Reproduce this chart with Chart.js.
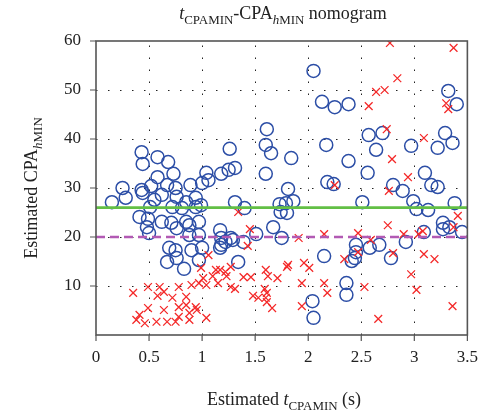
<!DOCTYPE html>
<html lang="en">
<head>
    <meta charset="UTF-8">
    <title>tCPAMIN-CPAhMIN nomogram</title>
    <script src="https://cdn.jsdelivr.net/npm/chart.js"></script>
    <style>
        body { margin: 0; background: #fff; }
        #wrap { width: 490px; height: 415px; }
    </style>
</head>
<body>
    <div id="wrap"><canvas id="nomogram" width="490" height="415"></canvas></div>

    <script>
        // Blue circles (points above the threshold)
        const circleX = [2.05, 2.13, 2.25, 2.38, 1.61, 1.60, 1.65, 1.84, 1.26, 2.38, 2.17, 1.60, 1.31, 1.25, 1.18,
            0.43, 0.44, 0.58, 0.68, 0.58, 0.73, 1.04, 1.06, 3.32, 3.40, 2.57, 2.70, 2.64, 2.97, 3.29,
            3.22, 3.36, 2.56, 3.10, 2.80, 2.89, 3.16, 3.22, 2.51, 2.99, 3.02, 3.13, 3.38, 3.27, 3.27,
            3.33, 3.45, 3.09, 2.92, 2.67, 2.58, 2.45, 2.45, 2.44, 2.41, 2.78, 2.36, 2.36, 2.18, 2.24,
            1.81, 1.31, 1.40, 1.73, 1.79, 1.86, 1.74, 1.80, 1.17, 1.27, 1.29, 1.22, 1.18, 1.39, 1.51,
            1.67, 1.75, 1.34, 2.15, 2.04, 2.05, 0.25, 0.43, 0.44, 0.52, 0.67, 0.75, 0.89, 1.00, 0.15,
            0.28, 0.55, 0.62, 0.76, 0.85, 0.94, 0.51, 0.72, 0.81, 0.94, 0.99, 0.41, 0.49, 0.62, 0.71,
            0.85, 0.88, 0.97, 0.48, 0.50, 0.76, 0.88, 0.97, 1.18, 1.00, 0.90, 0.69, 0.75, 0.67, 0.76,
            0.97, 0.83, 1.17];
        const circleY = [53.9, 47.6, 46.5, 47.1, 42.0, 38.8, 37.1, 36.1, 38.0, 35.5, 38.8, 32.9, 34.1, 33.7, 32.9,
            37.3, 34.9, 36.3, 35.3, 32.2, 32.9, 33.1, 31.6, 49.8, 47.1, 40.8, 41.2, 37.8, 38.6, 41.2,
            38.2, 39.2, 33.1, 33.1, 30.6, 29.4, 30.6, 30.2, 27.1, 27.3, 25.7, 25.5, 26.9, 22.9, 21.6,
            22.0, 21.0, 21.0, 19.0, 18.4, 17.8, 18.4, 16.9, 15.7, 15.1, 15.7, 10.6, 8.2, 31.2, 30.8,
            29.8, 27.1, 25.9, 26.7, 26.9, 27.3, 25.1, 24.9, 21.4, 19.8, 19.4, 19.0, 18.4, 19.0, 20.6,
            22.0, 19.8, 14.9, 16.1, 6.9, 3.5, 30.0, 29.6, 29.0, 30.4, 30.6, 30.0, 30.6, 31.0, 27.1,
            28.0, 27.6, 28.6, 28.2, 27.1, 28.0, 26.1, 26.1, 25.9, 26.1, 26.5, 24.1, 23.7, 23.1, 22.9,
            23.1, 22.4, 23.1, 22.0, 20.8, 21.8, 20.4, 20.4, 19.8, 17.8, 17.3, 17.8, 17.3, 14.9, 15.7,
            15.3, 13.5, 17.8];

        // Red crosses
        const crossX = [2.77, 3.37, 2.84, 2.64, 2.72, 2.57, 3.30, 3.32, 2.74, 3.09, 2.79, 2.94, 2.76, 3.41, 2.75,
            2.47, 2.90, 3.04, 3.08, 3.37, 2.59, 2.47, 2.80, 3.09, 3.19, 2.97, 2.53, 3.02, 3.36, 2.66,
            2.25, 1.34, 1.45, 1.43, 1.91, 2.15, 2.34, 1.81, 1.96, 2.01, 1.80, 1.27, 1.17, 1.23, 1.39,
            1.46, 1.60, 1.62, 1.71, 1.94, 2.15, 2.18, 1.27, 1.31, 1.48, 1.53, 1.59, 1.61, 1.60, 1.61,
            1.66, 1.94, 1.15, 0.35, 0.49, 0.60, 0.58, 0.64, 0.72, 0.78, 0.85, 0.90, 0.97, 1.04, 1.13,
            1.06, 0.99, 1.01, 1.10, 1.22, 0.41, 0.38, 0.46, 0.49, 0.57, 0.64, 0.67, 0.78, 0.88, 0.85,
            0.94, 0.95, 1.04, 0.78, 0.75, 0.88];
        const crossY = [59.6, 58.6, 52.4, 49.6, 50.0, 46.7, 47.3, 46.1, 42.0, 40.2, 35.9, 32.2, 29.4, 24.3, 22.4,
            20.8, 20.6, 20.6, 21.2, 22.0, 19.4, 16.9, 16.7, 16.5, 15.5, 12.4, 9.8, 9.2, 5.9, 3.3,
            30.6, 25.1, 21.6, 18.2, 19.8, 20.6, 15.5, 14.3, 14.7, 13.7, 13.9, 13.9, 13.3, 12.0, 11.8,
            11.8, 13.3, 12.0, 11.6, 10.6, 10.6, 8.6, 9.8, 9.4, 8.0, 7.6, 9.4, 8.6, 7.6, 6.7,
            5.5, 5.9, 10.6, 8.6, 9.8, 9.8, 8.0, 8.8, 7.6, 9.8, 7.8, 10.2, 10.6, 10.2, 13.3,
            16.3, 13.7, 11.6, 12.0, 12.9, 4.1, 3.1, 2.4, 5.5, 2.7, 5.1, 2.7, 3.7, 4.5, 6.1,
            5.7, 5.1, 3.5, 5.7, 2.7, 3.1];

        // Threshold lines: green solid, magenta dashed
        const greenLevel = 26;
        const magentaLevel = 20;

        const xTicks = [0, 0.5, 1, 1.5, 2, 2.5, 3, 3.5];
        const yTicks = [10, 20, 30, 40, 50, 60];

        const serif = '"Liberation Serif", "DejaVu Serif", serif';

        // draw text with italic/subscript parts
        function richWidth(ctx, parts, size) {
            let w = 0;
            parts.forEach(p => {
                ctx.font = (p.i ? 'italic ' : '') + (p.sub ? size * 0.72 : size) + 'px ' + serif;
                w += ctx.measureText(p.t).width;
            });
            return w;
        }
        function drawRich(ctx, parts, cx, baseline, size) {
            let x = cx - richWidth(ctx, parts, size) / 2;
            parts.forEach(p => {
                ctx.font = (p.i ? 'italic ' : '') + (p.sub ? size * 0.72 : size) + 'px ' + serif;
                ctx.fillText(p.t, x, baseline + (p.sub ? size * 0.28 : 0));
                x += ctx.measureText(p.t).width;
            });
        }

        const framePlugin = {
            id: 'frame',
            beforeDatasetsDraw(chart) {
                const ctx = chart.ctx;
                const a = chart.chartArea;
                const xs = chart.scales.x, ys = chart.scales.y;
                ctx.save();
                ctx.strokeStyle = '#222';
                ctx.lineWidth = 1;
                ctx.setLineDash([1.5, 10.5]);
                xTicks.slice(1, -1).forEach(v => {
                    const px = Math.round(xs.getPixelForValue(v)) + 0.5;
                    ctx.beginPath(); ctx.moveTo(px, a.bottom); ctx.lineTo(px, a.top); ctx.stroke();
                });
                yTicks.slice(0, -1).forEach(v => {
                    const py = Math.round(ys.getPixelForValue(v)) + 0.5;
                    ctx.beginPath(); ctx.moveTo(a.left, py); ctx.lineTo(a.right, py); ctx.stroke();
                });
                ctx.restore();
            },
            afterDraw(chart) {
                const ctx = chart.ctx;
                const a = chart.chartArea;
                const xs = chart.scales.x, ys = chart.scales.y;
                ctx.save();
                ctx.strokeStyle = '#555';
                ctx.lineWidth = 1.6;
                ctx.strokeRect(a.left, a.top, a.right - a.left, a.bottom - a.top);
                ctx.lineWidth = 1.2;
                ctx.beginPath();
                xTicks.forEach(v => {
                    const px = xs.getPixelForValue(v);
                    ctx.moveTo(px, a.bottom); ctx.lineTo(px, a.bottom + 6);
                });
                yTicks.forEach(v => {
                    const py = ys.getPixelForValue(v);
                    ctx.moveTo(a.left, py); ctx.lineTo(a.left - 6, py);
                });
                ctx.stroke();

                ctx.fillStyle = '#222';
                ctx.textAlign = 'left';
                ctx.textBaseline = 'alphabetic';
                drawRich(ctx, [
                    { t: 't', i: 1 }, { t: 'CPAMIN', sub: 1 }, { t: '-CPA' },
                    { t: 'h', i: 1, sub: 1 }, { t: 'MIN', sub: 1 }, { t: ' nomogram' }
                ], 283, 19, 18);
                drawRich(ctx, [
                    { t: 'Estimated ' }, { t: 't', i: 1 }, { t: 'CPAMIN', sub: 1 }, { t: ' (s)' }
                ], 284, 405, 18);
                ctx.translate(37, 188);
                ctx.rotate(-Math.PI / 2);
                drawRich(ctx, [
                    { t: 'Estimated CPA' }, { t: 'h', i: 1, sub: 1 }, { t: 'MIN', sub: 1 }
                ], 0, 0, 18);
                ctx.restore();
            }
        };

        const nomogram = new Chart(document.getElementById('nomogram'), {
            type: 'scatter',
            data: {
                datasets: [
                    {
                        label: 'circles',
                        data: circleX.map((x, i) => ({ x: x, y: circleY[i] })),
                        pointStyle: 'circle',
                        pointRadius: 6.5,
                        backgroundColor: 'rgba(0,0,0,0)',
                        borderColor: '#2c4ea6',
                        borderWidth: 1.5,
                        order: 2
                    },
                    {
                        label: 'crosses',
                        data: crossX.map((x, i) => ({ x: x, y: crossY[i] })),
                        pointStyle: 'crossRot',
                        pointRadius: 5.5,
                        borderColor: '#f42a2a',
                        borderWidth: 1.3,
                        order: 1
                    },
                    {
                        type: 'line',
                        label: 'green',
                        data: [{ x: 0, y: greenLevel }, { x: 3.5, y: greenLevel }],
                        borderColor: '#62bf45',
                        borderWidth: 2.6,
                        pointRadius: 0,
                        order: 0
                    },
                    {
                        type: 'line',
                        label: 'magenta',
                        data: [{ x: 0, y: magentaLevel }, { x: 3.5, y: magentaLevel }],
                        borderColor: '#b25ab4',
                        borderWidth: 2.6,
                        borderDash: [9, 5],
                        pointRadius: 0,
                        order: 0
                    }
                ]
            },
            options: {
                responsive: false,
                animation: false,
                layout: { padding: { top: 41, right: 18, left: 0, bottom: 0 } },
                plugins: {
                    legend: { display: false },
                    tooltip: { enabled: false }
                },
                scales: {
                    x: {
                        type: 'linear',
                        min: 0,
                        max: 3.5,
                        afterBuildTicks: s => { s.ticks = xTicks.map(v => ({ value: v })); },
                        afterFit: s => { s.height = 80; },
                        grid: { display: false, drawTicks: false },
                        border: { display: false },
                        ticks: {
                            padding: 12,
                            color: '#222',
                            font: { family: serif, size: 17 },
                            maxRotation: 0,
                            callback: v => String(v)
                        }
                    },
                    y: {
                        type: 'linear',
                        min: 0,
                        max: 60,
                        afterBuildTicks: s => { s.ticks = yTicks.map(v => ({ value: v })); },
                        afterFit: s => { s.width = 96; },
                        grid: { display: false, drawTicks: false },
                        border: { display: false },
                        ticks: {
                            padding: 15,
                            color: '#222',
                            font: { family: serif, size: 17 },
                            callback: v => String(v)
                        }
                    }
                }
            },
            plugins: [framePlugin]
        });
    </script>
</body>
</html>
